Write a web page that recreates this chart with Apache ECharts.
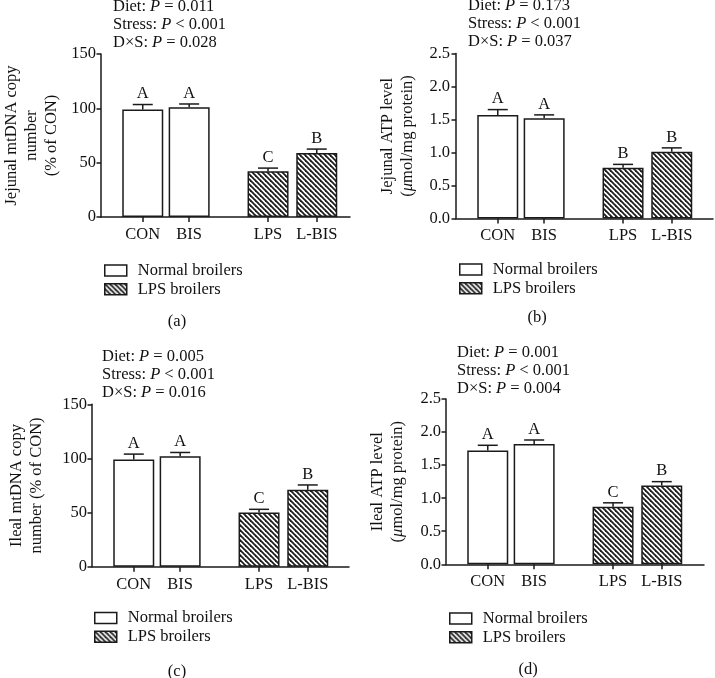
<!DOCTYPE html>
<html>
<head>
<meta charset="utf-8">
<script src="https://cdn.jsdelivr.net/npm/echarts@6/dist/echarts.min.js"></script>
<style>
html,body{margin:0;padding:0;background:#fff;}
#chart{width:715px;height:678px;}
</style>
</head>
<body>
<div id="chart"></div>
<script>
// ---------- data ----------
const categories = ['CON', 'BIS', 'LPS', 'L-BIS'];
const groupPositions = [1, 2, 3.7, 4.75];           // CON, BIS | gap | LPS, L-BIS
const legendNames = ['Normal broilers', 'LPS broilers'];

const jejunalMtDNA = [99, 101, 42, 59];
const jejunalMtDNAErr = [4.5, 3, 3, 3.5];
const jejunalMtDNALetters = ['A', 'A', 'C', 'B'];

const jejunalATP = [1.57, 1.52, 0.77, 1.01];
const jejunalATPErr = [0.08, 0.05, 0.05, 0.06];
const jejunalATPLetters = ['A', 'A', 'B', 'B'];

const ilealMtDNA = [99, 102, 50, 71];
const ilealMtDNAErr = [5, 3.5, 3, 4.5];
const ilealMtDNALetters = ['A', 'A', 'C', 'B'];

const ilealATP = [1.72, 1.82, 0.87, 1.19];
const ilealATPErr = [0.08, 0.06, 0.06, 0.06];
const ilealATPLetters = ['A', 'A', 'C', 'B'];

const mtDNATicks = [0, 50, 100, 150];
const atpTicks = [0.0, 0.5, 1.0, 1.5, 2.0, 2.5];

const statsA = ['0.011', '< 0.001', '0.028'];
const statsB = ['0.173', '< 0.001', '0.037'];
const statsC = ['0.005', '< 0.001', '0.016'];
const statsD = ['0.001', '< 0.001', '0.004'];

// ---------- styling / layout ----------
const FONT = '"Liberation Serif", "DejaVu Serif", serif';
const FS = 16.5;
const INK = '#1a1a1a';
const UNIT = 46.4; // px per x unit
const XMIN = 0.1;

function hatch() {
  const s = 5;
  const c = document.createElement('canvas');
  c.width = s; c.height = s;
  const g = c.getContext('2d');
  g.fillStyle = '#fff'; g.fillRect(0, 0, s, s);
  g.strokeStyle = '#1e1e1e'; g.lineWidth = 1.8;
  for (const k of [-s, 0, s]) {
    g.beginPath(); g.moveTo(-1 + k, -1); g.lineTo(s + 1 + k, s + 1); g.stroke();
  }
  return { image: c, repeat: 'repeat' };
}
const hatchFill = hatch();

const panels = [
  { id: 'a', grid: { left: 101, top: 54, width: 249, height: 163 }, labelMargin: 5,
    name: 'Jejunal mtDNA copy\nnumber\n(% of CON)', nameGap: 39,
    vals: jejunalMtDNA, errs: jejunalMtDNAErr, letters: jejunalMtDNALetters, ticks: mtDNATicks, dec: 0,
    stats: statsA, statsPos: [113, -2], legendPos: [104, 262], tag: '(a)', tagPos: [177, 322] },
  { id: 'b', grid: { left: 456, top: 53.5, width: 257, height: 165 }, labelMargin: 6,
    name: 'Jejunal ATP level\n({i|μ}mol/mg protein)', nameGap: 38,
    vals: jejunalATP, errs: jejunalATPErr, letters: jejunalATPLetters, ticks: atpTicks, dec: 1,
    stats: statsB, statsPos: [468, -3], legendPos: [459, 261], tag: '(b)', tagPos: [537, 318] },
  { id: 'c', grid: { left: 92, top: 404.3, width: 257, height: 162.4 }, labelMargin: 5,
    name: 'Ileal mtDNA copy\nnumber (% of CON)', nameGap: 45,
    vals: ilealMtDNA, errs: ilealMtDNAErr, letters: ilealMtDNALetters, ticks: mtDNATicks, dec: 0,
    stats: statsC, statsPos: [102, 347.5], legendPos: [94, 609.5], tag: '(c)', tagPos: [177, 672] },
  { id: 'd', grid: { left: 446, top: 399, width: 258, height: 165.3 }, labelMargin: 5,
    name: 'Ileal ATP level\n({i|μ}mol/mg protein)', nameGap: 38,
    vals: ilealATP, errs: ilealATPErr, letters: ilealATPLetters, ticks: atpTicks, dec: 1,
    stats: statsD, statsPos: [457, 344], legendPos: [449, 610], tag: '(d)', tagPos: [528, 670] }
];

const option = {
  animation: false,
  backgroundColor: '#fff',
  textStyle: { fontFamily: FONT },
  grid: [], xAxis: [], yAxis: [], series: [], legend: [], graphic: []
};

panels.forEach((p, i) => {
  option.grid.push(p.grid);
  const xmax = XMIN + p.grid.width / UNIT;
  option.xAxis.push({
    type: 'value', gridIndex: i, min: XMIN, max: xmax,
    splitLine: { show: false },
    axisLine: { show: true, onZero: false, lineStyle: { color: INK, width: 1.5 } },
    axisTick: { show: true, length: 5, lineStyle: { color: INK, width: 1.5 }, customValues: groupPositions },
    axisLabel: {
      customValues: groupPositions, margin: 9,
      fontFamily: FONT, fontSize: FS, color: '#111',
      formatter: v => {
        let best = 0;
        groupPositions.forEach((g, k) => { if (Math.abs(g - v) < Math.abs(groupPositions[best] - v)) best = k; });
        return categories[best];
      }
    }
  });
  const tmin = p.ticks[0], tmax = p.ticks[p.ticks.length - 1], tint = p.ticks[1] - p.ticks[0];
  option.yAxis.push({
    type: 'value', gridIndex: i, min: tmin, max: tmax, interval: tint,
    splitLine: { show: false },
    axisLine: { show: true, lineStyle: { color: INK, width: 1.5 } },
    axisTick: { show: true, length: 4.5, lineStyle: { color: INK, width: 1.5 } },
    axisLabel: { margin: p.labelMargin, fontFamily: FONT, fontSize: FS, color: '#111',
      formatter: v => v.toFixed(p.dec) },
    name: p.name, nameLocation: 'middle', nameGap: p.nameGap, nameRotate: 90,
    nameTextStyle: { fontFamily: FONT, fontSize: FS, color: '#111', lineHeight: 20, align: 'center',
      rich: { i: { fontFamily: FONT, fontSize: FS, fontStyle: 'italic', color: '#111', lineHeight: 20 } } }
  });

  const normalData = [0, 1].map(k => [groupPositions[k], p.vals[k]]);
  const lpsData = [2, 3].map(k => [groupPositions[k], p.vals[k]]);
  option.series.push({
    type: 'bar', name: legendNames[0], xAxisIndex: i, yAxisIndex: i,
    barWidth: 41, barGap: '-100%', data: normalData,
    itemStyle: { color: '#fff', borderColor: INK, borderWidth: 1.5 }
  });
  option.series.push({
    type: 'bar', name: legendNames[1], xAxisIndex: i, yAxisIndex: i,
    barWidth: 41, barGap: '-100%', data: lpsData,
    itemStyle: { color: hatchFill, borderColor: INK, borderWidth: 1.5 }
  });
  option.series.push({
    type: 'custom', xAxisIndex: i, yAxisIndex: i, z: 5,
    encode: { x: 0, y: 1 },
    data: categories.map((c, k) => [groupPositions[k], p.vals[k], p.errs[k]]),
    renderItem: (params, api) => {
      const x = api.value(0), m = api.value(1), e = api.value(2);
      const p0 = api.coord([x, m]);
      const p1 = api.coord([x, m + e]);
      const ls = { stroke: INK, lineWidth: 1.5 };
      return { type: 'group', children: [
        { type: 'line', shape: { x1: p0[0], y1: p0[1], x2: p1[0], y2: p1[1] }, style: ls },
        { type: 'line', shape: { x1: p1[0] - 10, y1: p1[1], x2: p1[0] + 10, y2: p1[1] }, style: ls },
        { type: 'text', x: p1[0], y: p1[1] - 2,
          style: { text: p.letters[params.dataIndex], fontFamily: FONT, fontSize: FS, fill: '#111',
            align: 'center', verticalAlign: 'bottom' } }
      ]};
    }
  });

  option.legend.push({
    orient: 'vertical', left: p.legendPos[0], top: p.legendPos[1],
    itemWidth: 22, itemHeight: 11, itemGap: 1.7, padding: 0,
    icon: 'rect', selectedMode: false,
    itemStyle: { borderColor: INK, borderWidth: 1.5 },
    textStyle: { fontFamily: FONT, fontSize: FS, color: '#111', padding: [0, 0, 0, 6] },
    data: legendNames
  });

  option.graphic.push({
    type: 'text', left: p.statsPos[0], top: p.statsPos[1],
    style: {
      text: 'Diet: {i|P} = ' + p.stats[0] + '\nStress: {i|P} ' + p.stats[1] + '\nD×S: {i|P} = ' + p.stats[2],
      fontFamily: FONT, fontSize: FS, fill: '#111', lineHeight: 18,
      rich: { i: { fontStyle: 'italic', fontFamily: FONT, fontSize: FS, fill: '#111', lineHeight: 18 } }
    }
  });
  option.graphic.push({
    type: 'text', x: p.tagPos[0], y: p.tagPos[1],
    style: { text: p.tag, fontFamily: FONT, fontSize: FS, fill: '#111', align: 'center', verticalAlign: 'middle' }
  });
});

const chart = echarts.init(document.getElementById('chart'), null, { renderer: 'canvas' });
chart.setOption(option);
</script>
</body>
</html>
